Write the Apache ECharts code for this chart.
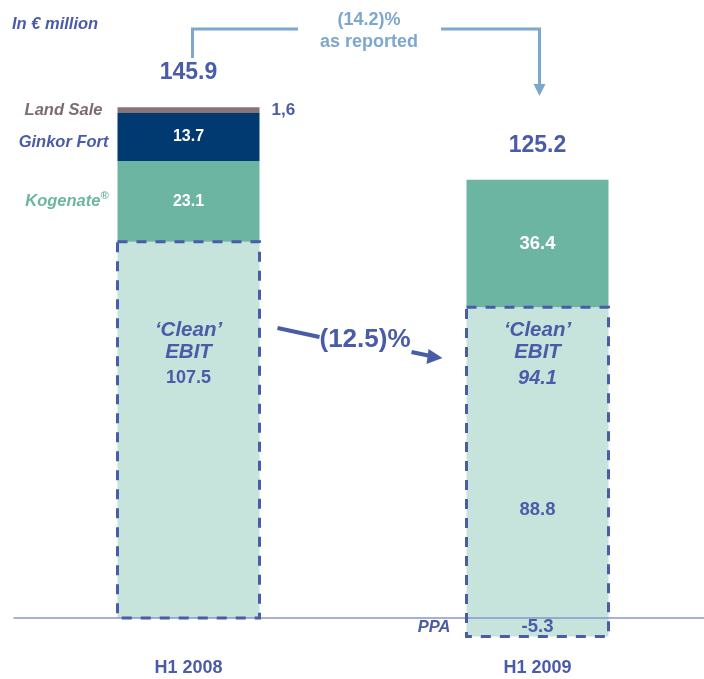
<!DOCTYPE html>
<html>
<head>
<meta charset="utf-8">
<script src="https://cdn.jsdelivr.net/npm/echarts@6/dist/echarts.min.js"></script>
<style>
  html, body { margin: 0; padding: 0; background: #fff; }
  #chart { width: 704px; height: 679px; }
</style>
</head>
<body>
<div id="chart"></div>
<script>
  // values in € million
  var categories = ['H1 2008', 'H1 2009']
  var cleanEbit = [107.5, 88.8]
  var ppa = ['-', -5.3]
  var kogenate = [23.1, 36.4]
  var ginkorFort = [13.7, '-']
  var landSale = [1.6, '-']
  var totals = [145.9, 125.2]
  var cleanBoxLow = [0, -5.3]
  var cleanBoxHigh = [107.5, 88.8]
  var cleanBoxValue = ['107.5', '94.1']
  var reportedChange = '(14.2)%'
  var cleanChange = '(12.5)%'

  var BLUE = '#4a5ca8'
  var LIGHT_BLUE = '#7ea7cc'
  var GREEN = '#6db5a3'
  var PALE = '#c6e3dc'
  var FONT = '"Liberation Sans", Arial, sans-serif'
  var BAR_W = 142
  var LABEL_LEVEL = 76

  var chart = echarts.init(document.getElementById('chart'))

  function valueLabel(color) {
    return {
      show: true,
      position: 'inside',
      color: color,
      fontSize: 16,
      fontWeight: 'bold',
      fontFamily: FONT
    }
  }

  // the 2009 bar uses slightly bigger value labels
  function byYear(arr) {
    return arr.map(function (v, i) {
      return i === 1 ? {value: v, label: {fontSize: 18.5}} : v
    })
  }

  // positions of the segment name labels, taken from the stacked values
  var names = [
    {name: 'Land Sale', value: [0, cleanEbit[0] + kogenate[0] + ginkorFort[0] + landSale[0] / 2], label: {color: '#7d6b74', offset: [-6, 0]}},
    {name: 'Ginkor Fort', value: [0, cleanEbit[0] + kogenate[0] + ginkorFort[0] / 2], label: {color: BLUE, offset: [0, 6]}},
    {name: 'Kogenate', value: [0, cleanEbit[0] + kogenate[0] / 2], label: {formatter: '{a|Kogenate}{s|®}'}},
    {name: 'PPA', value: [1, ppa[1] / 2], label: {color: BLUE, offset: [-7, 0]}}
  ]

  chart.setOption({
    animation: false,
    textStyle: {fontFamily: FONT},
    grid: {left: 14, right: -8, top: 44, bottom: 29.5, outerBoundsMode: 'none', containLabel: false},
    xAxis: {
      type: 'category',
      data: categories,
      z: 3,
      axisLine: {onZero: true, lineStyle: {color: '#8a97c8', width: 1.5}},
      axisTick: {show: false},
      axisLabel: {margin: 10, color: BLUE, fontSize: 18, fontWeight: 'bold', fontFamily: FONT}
    },
    yAxis: {
      type: 'value',
      min: -9,
      max: 164,
      axisLine: {show: false},
      axisTick: {show: false},
      axisLabel: {show: false},
      splitLine: {show: false}
    },
    series: [
      {
        name: 'Clean EBIT', type: 'bar', stack: 'ebit', barWidth: BAR_W,
        itemStyle: {color: PALE},
        label: Object.assign(valueLabel(BLUE), {
          offset: [0, 47],
          formatter: function (p) { return p.dataIndex === 1 ? p.value : '' }
        }),
        data: byYear(cleanEbit)
      },
      {
        name: 'PPA', type: 'bar', stack: 'ebit', barWidth: BAR_W,
        itemStyle: {color: PALE},
        label: valueLabel(BLUE),
        data: byYear(ppa)
      },
      {
        name: 'Kogenate', type: 'bar', stack: 'ebit', barWidth: BAR_W,
        itemStyle: {color: GREEN},
        label: valueLabel('#fff'),
        data: byYear(kogenate)
      },
      {
        name: 'Ginkor Fort', type: 'bar', stack: 'ebit', barWidth: BAR_W,
        itemStyle: {color: '#003a70'},
        label: valueLabel('#fff'),
        data: ginkorFort
      },
      {
        name: 'Land Sale', type: 'bar', stack: 'ebit', barWidth: BAR_W,
        itemStyle: {color: '#85737b'},
        label: Object.assign(valueLabel(BLUE), {
          position: 'right',
          distance: 12,
          fontSize: 17,
          formatter: function (p) { return String(p.value).replace('.', ',') }
        }),
        data: landSale
      },
      {
        name: 'Total', type: 'scatter', symbolSize: 0,
        itemStyle: {opacity: 1},
        label: {
          show: true, position: 'top', distance: 23,
          color: BLUE, fontSize: 23, fontWeight: 'bold', fontFamily: FONT,
          formatter: function (p) { return p.value[1].toFixed(1) }
        },
        data: totals.map(function (v, i) { return [i, v] })
      },
      {
        name: 'Names', type: 'scatter', symbolSize: 0,
        itemStyle: {opacity: 1},
        label: {
          show: true, position: 'left', distance: BAR_W / 2 + 9,
          fontSize: 16.5, fontWeight: 'bold', fontStyle: 'italic', fontFamily: FONT,
          formatter: '{b}',
          rich: {
            a: {color: GREEN, fontSize: 16.5, fontWeight: 'bold', fontStyle: 'italic', fontFamily: FONT},
            s: {color: GREEN, fontSize: 11, fontStyle: 'italic', fontFamily: FONT, verticalAlign: 'top', padding: [0, 0, 10, 0]}
          }
        },
        data: names
      },
      {
        name: 'Clean box', type: 'custom', z: 5,
        data: cleanBoxLow.map(function (lo, i) { return [i, lo, cleanBoxHigh[i]] }),
        renderItem: function (params, api) {
          var x = api.value(0)
          var top = api.coord([x, api.value(2)])
          var bot = api.coord([x, api.value(1)])
          var mid = api.coord([x, LABEL_LEVEL])
          var italicNum = params.dataIndex === 1
          var txt = {fill: BLUE, fontFamily: FONT, fontWeight: 'bold', align: 'center', verticalAlign: 'middle'}
          return {
            type: 'group',
            children: [
              {
                type: 'rect',
                shape: {x: top[0] - BAR_W / 2, y: top[1], width: BAR_W, height: bot[1] - top[1]},
                style: {fill: null, stroke: BLUE, lineWidth: 3, lineDash: [10, 9]}
              },
              {type: 'text', x: top[0], y: mid[1] - 22, style: Object.assign({text: '‘Clean’', fontSize: 20.5, fontStyle: 'italic'}, txt)},
              {type: 'text', x: top[0], y: mid[1], style: Object.assign({text: 'EBIT', fontSize: 20.5, fontStyle: 'italic'}, txt)},
              {type: 'text', x: top[0], y: mid[1] + 26, style: Object.assign({
                text: cleanBoxValue[params.dataIndex],
                fontSize: italicNum ? 20 : 18,
                fontStyle: italicNum ? 'italic' : 'normal'
              }, txt)}
            ]
          }
        }
      }
    ]
  })

  // annotation arrows, anchored on the bars
  var c0 = chart.convertToPixel({xAxisIndex: 0, yAxisIndex: 0}, [0, 0])[0]
  var c1 = chart.convertToPixel({xAxisIndex: 0, yAxisIndex: 0}, [1, 0])[0]
  var midX = (c0 + c1) / 2 + 6
  var right0 = c0 + BAR_W / 2
  var left1 = c1 - BAR_W / 2
  var topY = 29

  chart.setOption({
    graphic: [
      {
        type: 'text', left: 12, top: 16,
        style: {text: 'In € million', fill: BLUE, font: 'italic bold 16.5px ' + FONT}
      },
      {
        type: 'polyline',
        shape: {points: [[c0 + 4, 58], [c0 + 4, topY], [midX - 71, topY]]},
        style: {stroke: LIGHT_BLUE, lineWidth: 3, fill: null}
      },
      {
        type: 'polyline',
        shape: {points: [[midX + 72, topY], [c1 + 2, topY], [c1 + 2, 86]]},
        style: {stroke: LIGHT_BLUE, lineWidth: 3, fill: null}
      },
      {
        type: 'polygon',
        shape: {points: [[c1 - 4, 84], [c1 + 8, 84], [c1 + 2, 96]]},
        style: {fill: LIGHT_BLUE}
      },
      {
        type: 'text', x: midX, y: 20,
        style: {text: reportedChange, fill: LIGHT_BLUE, font: 'bold 18px ' + FONT, align: 'center', verticalAlign: 'middle'}
      },
      {
        type: 'text', x: midX, y: 42,
        style: {text: 'as reported', fill: LIGHT_BLUE, font: 'bold 18px ' + FONT, align: 'center', verticalAlign: 'middle'}
      },
      {
        type: 'line',
        shape: {x1: right0 + 18, y1: 328, x2: right0 + 60, y2: 337},
        style: {stroke: BLUE, lineWidth: 4}
      },
      {
        type: 'text', x: (right0 + left1) / 2 + 2, y: 340,
        style: {text: cleanChange, fill: BLUE, font: 'bold 26px ' + FONT, align: 'center', verticalAlign: 'middle'}
      },
      {
        type: 'line',
        shape: {x1: left1 - 55, y1: 352, x2: left1 - 36, y2: 356},
        style: {stroke: BLUE, lineWidth: 4}
      },
      {
        type: 'polygon',
        shape: {points: [[left1 - 38, 349], [left1 - 24, 358], [left1 - 40, 364]]},
        style: {fill: BLUE}
      }
    ]
  })
</script>
</body>
</html>
